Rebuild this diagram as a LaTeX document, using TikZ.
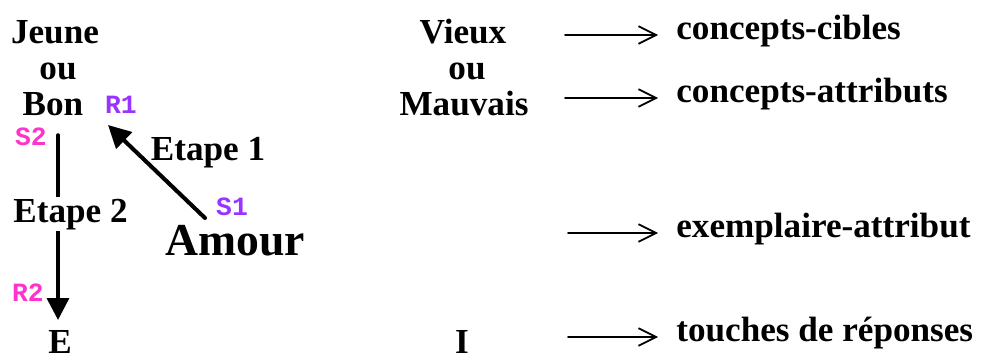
\documentclass[tikz,border=0pt]{standalone}
\usepackage{fontspec}
\setmainfont{Liberation Serif}
\newfontfamily\tagfont{Liberation Mono}
\usetikzlibrary{arrows.meta}
\definecolor{violetR}{RGB}{153,51,255}
\definecolor{roseS}{RGB}{255,51,204}
\tikzset{
	mot/.style={font=\fontsize{20}{24}\selectfont\bfseries,inner sep=0pt,anchor=base},
	tag/.style={font=\fontsize{15}{18}\selectfont\tagfont\bfseries,inner sep=0pt,text height=1.3ex,text depth=0pt},
	cible/.style={font=\fontsize{20}{24}\selectfont\bfseries,inner ysep=0pt,inner xsep=0.36cm,anchor=mid west},
	fleche/.style={line width=1pt,-{Straight Barb[length=10pt,width=10pt]}},
	grosse/.style={-{Triangle[length=0.45cm,width=0.45cm]}}
}

\begin{document}
\begin{tikzpicture}[line cap=round,line join=round,x=1.0cm,y=1.0cm]
		\useasboundingbox (0,0) rectangle (19.64,7.18);
		\node[mot] (jeune) at (1.10,6.32) {Jeune};
		\node[mot] (ouG) at (1.16,5.60) {ou};
		\node[mot] (bon) at (1.06,4.88) {Bon};
		\node[mot] (vieux) at (9.26,6.32) {Vieux};
		\node[mot] (ouD) at (9.34,5.60) {ou};
		\node[mot] (mauvais) at (9.28,4.88) {Mauvais};
		\node[mot] (etape1) at (4.16,3.98) {Etape 1};
		\node[mot,font=\fontsize{26}{30}\selectfont\bfseries,text height=1.45ex] (amour) at (4.70,2.08) {Amour};
		\node[mot] (E) at (1.20,0.12) {E};
		\node[mot] (I) at (9.24,0.12) {I};
		\node[tag,color=violetR] (R1) at (2.42,5.02) {R1};
		\node[tag,color=violetR] (S1) at (4.64,2.98) {S1};
		\node[tag,color=roseS] (S2) at (0.62,4.38) {S2};
		\node[tag,color=roseS] (R2) at (0.56,1.26) {R2};
		\coordinate (a1s) at (4.10,2.82);
		\coordinate (a1e) at (2.16,4.68);
		\coordinate (a2s) at (1.16,4.48);
		\coordinate (a2e) at (1.16,0.78);
		\draw [grosse,line width=2.3pt] (a1s)-- (a1e);
		\draw [line width=2pt,-{Triangle[length=0.44cm,width=0.44cm]}] (a2s)-- (a2e);
		\node[mot,fill=white,inner ysep=1pt] (etape2) at (1.41,2.74) {Etape 2};
		\node[cible] (cib) at (13.16,6.48) {concepts-cibles};
		\node[cible] (att) at (13.16,5.22) {concepts-attributs};
		\node[cible] (exa) at (13.16,2.52) {exemplaire-attribut};
		\node[cible] (rep) at (13.16,0.44) {touches de réponses};
		\coordinate (d1) at (11.30,6.48);
		\coordinate (d2) at (11.30,5.22);
		\coordinate (d3) at (11.36,2.52);
		\coordinate (d4) at (11.36,0.44);
		\draw [fleche] (d1)-- (cib.mid west);
		\draw [fleche] (d2)-- (att.mid west);
		\draw [fleche] (d3)-- (exa.mid west);
		\draw [fleche] (d4)-- (rep.mid west);
	\end{tikzpicture}
\end{document}
